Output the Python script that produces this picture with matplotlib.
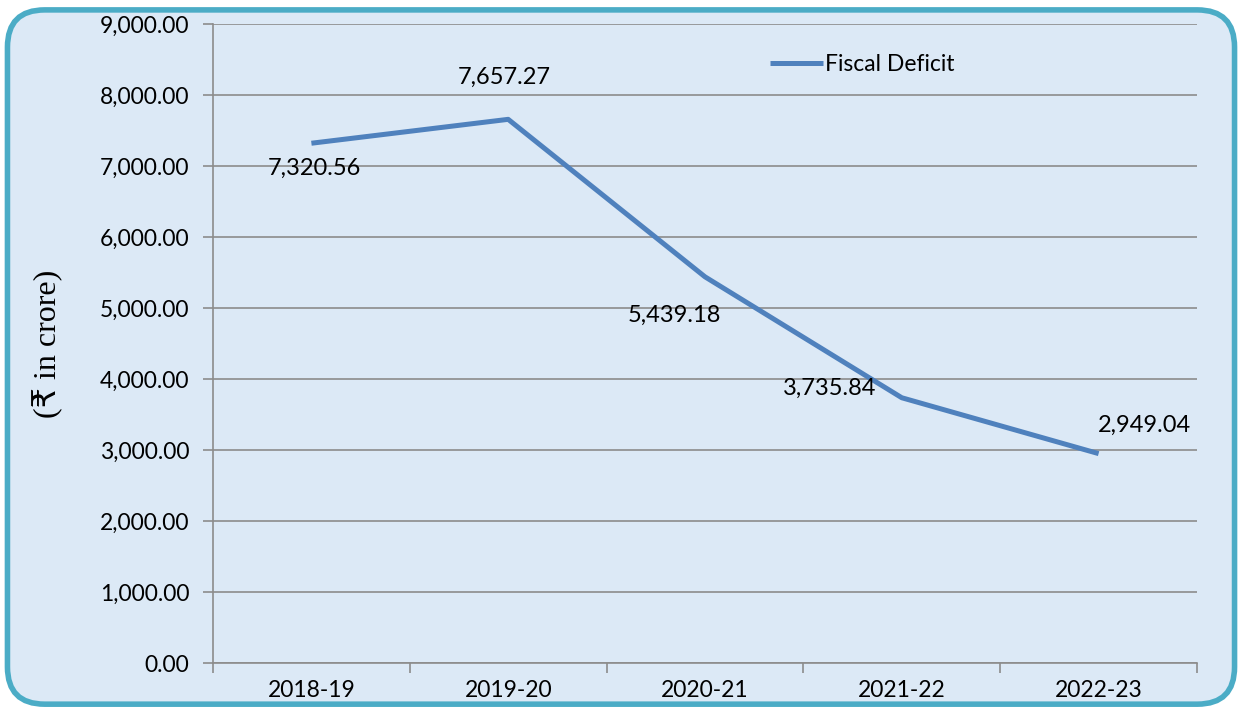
import matplotlib
matplotlib.use("Agg")
import matplotlib.pyplot as plt
from matplotlib.patches import FancyBboxPatch

years = ["2018-19", "2019-20", "2020-21", "2021-22", "2022-23"]
fiscal_deficit = [7320.56, 7657.27, 5439.18, 3735.84, 2949.04]
yticks = [0, 1000, 2000, 3000, 4000, 5000, 6000, 7000, 8000, 9000]
# label offsets in points (dx, dy) for each data label
label_offsets = [(2, -18), (-3, 30), (-22, -28), (-52, 7), (33, 20)]

LINE = "#4F81BD"
GRID = "#8C8C8C"
BG = "#DCE9F6"
EDGE = "#4BACC6"
FONT = "Lato"

fig = plt.figure(figsize=(12.42, 7.07), dpi=100)
fig.patch.set_facecolor("white")
frame = FancyBboxPatch((0.006, 0.004), 0.988, 0.982,
                       boxstyle="round,pad=0,rounding_size=0.03",
                       transform=fig.transFigure, facecolor=BG, edgecolor=EDGE,
                       linewidth=4, mutation_aspect=1242 / 707, zorder=-5)
fig.patches.append(frame)

ax = fig.add_axes([213 / 1242, 1 - 663 / 707, (1197 - 213) / 1242, (663 - 24) / 707])
ax.set_facecolor("none")
ax.set_zorder(1)
x = list(range(len(years)))
ax.plot(x, fiscal_deficit, color=LINE, linewidth=3.6, solid_capstyle="butt",
        label="Fiscal Deficit", zorder=3)

ax.set_xlim(-0.5, len(years) - 0.5)
ax.set_ylim(0, 9000)
ax.set_yticks(yticks)
ax.set_yticklabels([f"{v:,.2f}" for v in yticks], fontsize=16.5, family=FONT)
ax.set_xticks(x)
ax.set_xticklabels(years, fontsize=16.5, family=FONT)
ax.tick_params(axis="x", length=0, pad=12)
ax.tick_params(axis="y", length=7, color=GRID, width=1.2, pad=10)
ax.set_xticks([i - 0.5 for i in range(len(years) + 1)], minor=True)
ax.tick_params(axis="x", which="minor", length=7, color=GRID, width=1.2)
ax.grid(axis="y", color=GRID, linewidth=1.2)
for s in ["top", "right"]:
    ax.spines[s].set_visible(False)
for s in ["left", "bottom"]:
    ax.spines[s].set_color(GRID)
    ax.spines[s].set_linewidth(1.2)

for xi, v, (dx, dy) in zip(x, fiscal_deficit, label_offsets):
    ax.annotate(f"{v:,.2f}", (xi, v), xytext=(dx, dy), textcoords="offset points",
                ha="center", va="center", fontsize=17, family=FONT)

ax.set_ylabel("(₹ in crore)", fontsize=23, family=["Liberation Serif", "DejaVu Sans"],
              labelpad=26)

leg = ax.legend(loc="upper left", bbox_to_anchor=(0.545, 0.985), frameon=False,
                handlelength=2.3, handletextpad=0.1,
                prop={"family": FONT, "size": 16.5})

fig.savefig("out.png", dpi=100)
